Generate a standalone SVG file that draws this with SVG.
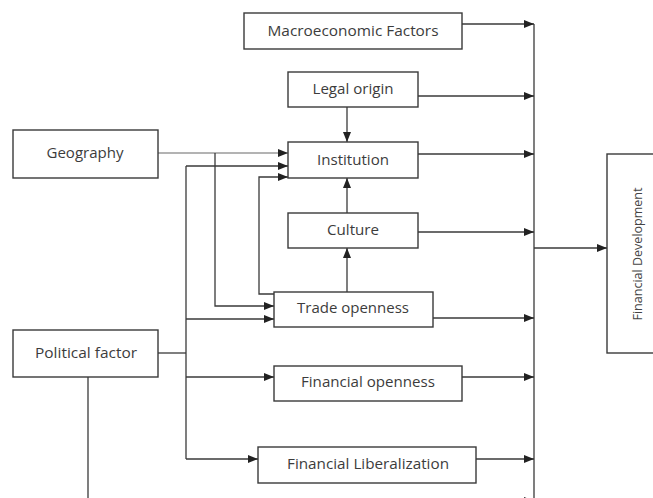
<svg xmlns="http://www.w3.org/2000/svg" width="653" height="498" viewBox="0 0 653 498">
<style>
.box{fill:#fff;stroke:#3a3a3a;stroke-width:1.4}
.lbl{font-family:"Open Sans","Liberation Sans",sans-serif;font-size:14px;fill:#3c3c3c;text-anchor:middle}
.fd{font-family:"Open Sans","Liberation Sans",sans-serif;font-size:12px;fill:#444;text-anchor:middle}
.ln{fill:none;stroke:#3a3a3a;stroke-width:1.3}
.lt{fill:none;stroke:#9a9a9a;stroke-width:1.3}
</style>
<defs>
<marker id="ah" markerUnits="userSpaceOnUse" markerWidth="10" markerHeight="8" refX="10" refY="4" orient="auto">
<path d="M0,0 L10,4 L0,8 Z" fill="#222"/>
</marker>
</defs>
<g id="connectors">
<path class="ln" d="M534,24 V498"/>
<path class="ln" d="M462,24 H534" marker-end="url(#ah)"/>
<path class="ln" d="M418,96 H534" marker-end="url(#ah)"/>
<path class="ln" d="M347,107 V142" marker-end="url(#ah)"/>
<path class="ln" d="M418,154 H534" marker-end="url(#ah)"/>
<path class="ln" d="M347,213 V178" marker-end="url(#ah)"/>
<path class="ln" d="M418,232 H534" marker-end="url(#ah)"/>
<path class="ln" d="M347,292 V248" marker-end="url(#ah)"/>
<path class="ln" d="M433,318 H534" marker-end="url(#ah)"/>
<path class="ln" d="M462,377 H534" marker-end="url(#ah)"/>
<path class="ln" d="M476,459 H534" marker-end="url(#ah)"/>
<path class="ln" d="M520,501 H534" marker-end="url(#ah)"/>
<path class="ln" d="M534,248 H607" marker-end="url(#ah)"/>
<path class="lt" d="M158,153 H288" marker-end="url(#ah)"/>
<path class="ln" d="M215,153 V306 H274" marker-end="url(#ah)"/>
<path class="ln" d="M158,353 H186"/>
<path class="ln" d="M186,166 V459"/>
<path class="ln" d="M186,166 H288" marker-end="url(#ah)"/>
<path class="ln" d="M186,319 H274" marker-end="url(#ah)"/>
<path class="ln" d="M186,377 H274" marker-end="url(#ah)"/>
<path class="ln" d="M186,459 H258" marker-end="url(#ah)"/>
<path class="ln" d="M274,294 H259 V177 H288" marker-end="url(#ah)"/>
<path class="ln" d="M88,377 V498"/>
</g>
<g id="macro"><rect class="box" x="244" y="13" width="218" height="36"/><text class="lbl" x="353" y="36" textLength="171" lengthAdjust="spacingAndGlyphs">Macroeconomic Factors</text></g>
<g id="legal"><rect class="box" x="288" y="72" width="130" height="35"/><text class="lbl" x="353" y="94" textLength="81" lengthAdjust="spacingAndGlyphs">Legal origin</text></g>
<g id="institution"><rect class="box" x="288" y="142" width="130" height="36"/><text class="lbl" x="353" y="165" textLength="72" lengthAdjust="spacingAndGlyphs">Institution</text></g>
<g id="culture"><rect class="box" x="288" y="213" width="130" height="35"/><text class="lbl" x="353" y="235" textLength="52" lengthAdjust="spacingAndGlyphs">Culture</text></g>
<g id="trade"><rect class="box" x="274" y="292" width="159" height="35"/><text class="lbl" x="353" y="313" textLength="112" lengthAdjust="spacingAndGlyphs">Trade openness</text></g>
<g id="finopen"><rect class="box" x="274" y="366" width="188" height="35"/><text class="lbl" x="368" y="387" textLength="134" lengthAdjust="spacingAndGlyphs">Financial openness</text></g>
<g id="finlib"><rect class="box" x="258" y="447" width="218" height="36"/><text class="lbl" x="368" y="469" textLength="162" lengthAdjust="spacingAndGlyphs">Financial Liberalization</text></g>
<g id="geography"><rect class="box" x="13" y="130" width="145" height="48"/><text class="lbl" x="85" y="158" textLength="77" lengthAdjust="spacingAndGlyphs">Geography</text></g>
<g id="political"><rect class="box" x="13" y="330" width="145" height="47"/><text class="lbl" x="86" y="358" textLength="102" lengthAdjust="spacingAndGlyphs">Political factor</text></g>
<g id="findev"><rect class="box" x="607" y="154" width="60" height="199"/><text class="fd" transform="translate(642,254) rotate(-90)" textLength="133" lengthAdjust="spacingAndGlyphs">Financial Development</text></g>
</svg>
